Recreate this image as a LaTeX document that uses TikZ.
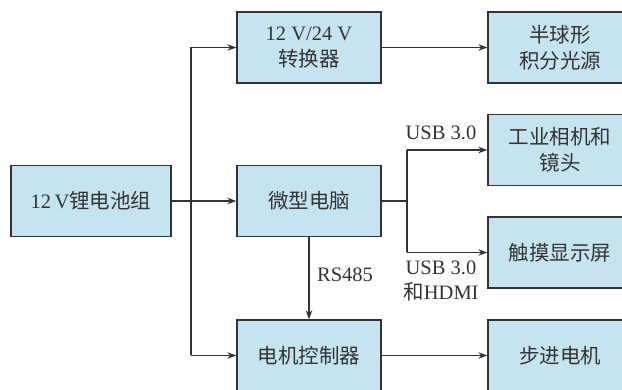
\documentclass[tikz,border=0pt]{standalone}
\usepackage{fontspec}
\setmainfont{Liberation Serif}
\newfontfamily\cjk{Noto Sans CJK SC}
\usetikzlibrary{arrows.meta}
\definecolor{boxfill}{RGB}{197,228,240}
\definecolor{ink}{RGB}{51,51,51}
\begin{document}
\begin{tikzpicture}[x=1pt,y=-1pt,
 box/.style={draw=ink,fill=boxfill,line width=1.3pt,minimum height=71pt,inner sep=0pt,align=center,text=ink,font=\fontsize{20.5}{26}\selectfont},
 wide/.style={box,minimum width=144pt},
 cjkbox/.style={wide,font=\fontsize{20.5}{26}\selectfont\cjk},
 arr/.style={draw=ink,line width=1.2pt,-{Stealth[length=9pt,width=6.5pt]}},
 ln/.style={draw=ink,line width=1.2pt},
 lbl/.style={text=ink,font=\fontsize{20.5}{25}\selectfont,align=center,inner sep=0pt}]
\useasboundingbox (0,0) rectangle (622,390);
\clip (0,0) rectangle (622,390);
\node[box,minimum width=160pt] (bat) at (91,201) {12\,V{\cjk 锂电池组}};
\node[wide] (conv) at (309,47.5) {12 V/24 V\\{\cjk 转换器}};
\node[cjkbox] (pc) at (309,201) {微型电脑};
\node[cjkbox] (ctrl) at (309,355.5) {电机控制器};
\node[cjkbox] (light) at (560,47.5) {半球形\\积分光源};
\node[cjkbox] (cam) at (560,150) {工业相机和\\镜头};
\node[cjkbox] (touch) at (560,252.5) {触摸显示屏};
\node[cjkbox] (step) at (560,355.5) {步进电机};
\coordinate (j1) at (191,201);
\coordinate (j2) at (407,201);
\draw[arr] (bat.east) -- (pc.west);
\draw[ln] (j1 |- conv.west) -- (j1 |- ctrl.west);
\draw[arr] (j1 |- conv.west) -- (conv.west);
\draw[arr] (j1 |- ctrl.west) -- (ctrl.west);
\draw[ln] (pc.east) -- (j2);
\draw[ln] (j2 |- cam.west) -- (j2 |- touch.west);
\draw[arr] (j2 |- cam.west) -- (cam.west);
\draw[arr] (j2 |- touch.west) -- (touch.west);
\draw[arr] (conv.east) -- (light.west);
\draw[arr] (ctrl.east) -- (step.west);
\draw[arr] (pc.south) -- (ctrl.north);
\node[lbl] (usb1) at (441,133) {USB 3.0};
\node[lbl] (rs) at (345,275) {RS485};
\node[lbl] (usb2) at (441,281) {USB 3.0\\{\cjk 和}HDMI};
\end{tikzpicture}
\end{document}
